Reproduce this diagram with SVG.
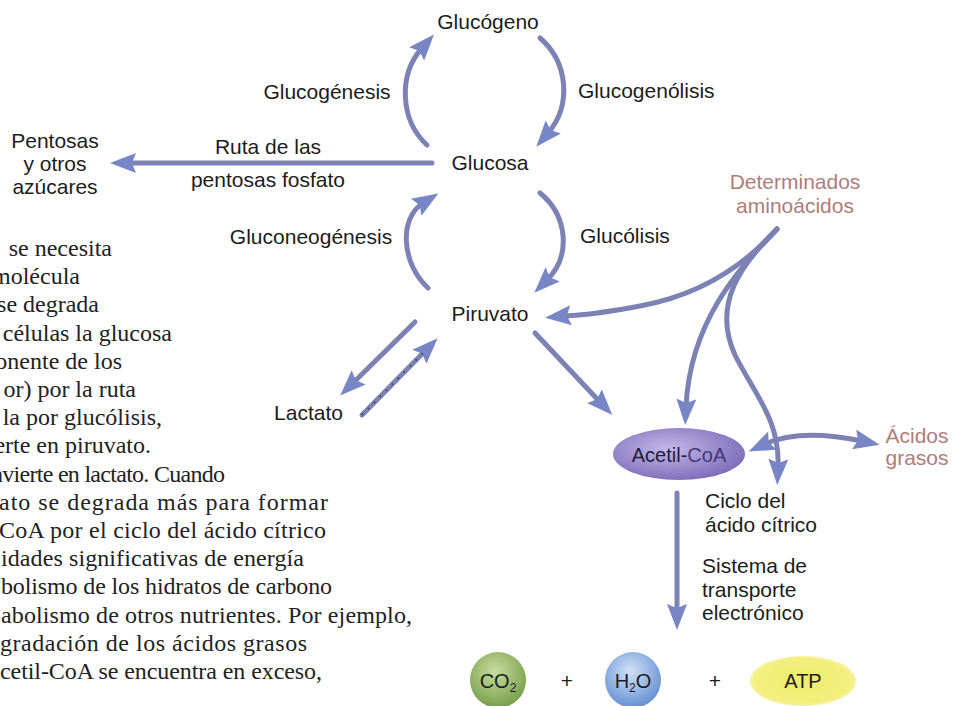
<svg xmlns="http://www.w3.org/2000/svg" width="973" height="706" viewBox="0 0 973 706">
<defs>
<style>
.lbl{font-family:"Liberation Sans",Arial,sans-serif;font-size:21px;fill:#1c1c1c}
.mid{text-anchor:middle}
.pink{fill:#b07c7a}
.body{font-family:"Liberation Serif","Times New Roman",serif;font-size:24px;fill:#222;text-anchor:end}
.c{stroke:#7d82b4;stroke-width:5;fill:none;stroke-linecap:round}
.ah{marker-end:url(#ah)}
</style>
<marker id="ah" viewBox="0 0 26 20" refX="8" refY="10" markerWidth="26" markerHeight="20" markerUnits="userSpaceOnUse" orient="auto-start-reverse">
<path d="M0,0 L26,10 L0,20 L4,10 z" fill="#7886c6"/>
</marker>
<radialGradient id="gAc" cx="0.42" cy="0.4" r="0.65"><stop offset="0" stop-color="#c4b8e8"/><stop offset="1" stop-color="#7b6ab8"/></radialGradient>
<radialGradient id="gCO" cx="0.45" cy="0.35" r="0.62"><stop offset="0" stop-color="#c8dca0"/><stop offset="1" stop-color="#7aa24e"/></radialGradient>
<radialGradient id="gH" cx="0.45" cy="0.35" r="0.62"><stop offset="0" stop-color="#d2e2f7"/><stop offset="1" stop-color="#6a94d4"/></radialGradient>
<radialGradient id="gATP" cx="0.5" cy="0.5" r="0.55"><stop offset="0" stop-color="#f1ec6c"/><stop offset="0.8" stop-color="#f3ef7e"/><stop offset="1" stop-color="#f8f6b4"/></radialGradient>
</defs>
<rect width="973" height="706" fill="#ffffff"/>

<g id="texto">
<text class="body" x="112" y="256">se necesita</text>
<text class="body" x="80" y="284">molécula</text>
<text class="body" x="99" y="312">se degrada</text>
<text class="body" x="172" y="341">células la glucosa</text>
<text class="body" x="122" y="369">onente de los</text>
<text class="body" x="136" y="397">or) por la ruta</text>
<text class="body" x="162" y="425">la por glucólisis,</text>
<text class="body" x="151" y="453">erte en piruvato.</text>
<text class="body" x="225" y="482" textLength="234" lengthAdjust="spacing">nvierte en lactato. Cuando</text>
<text class="body" x="328" y="510" textLength="329" lengthAdjust="spacing">ato se degrada más para formar</text>
<text class="body" x="326" y="538" textLength="327" lengthAdjust="spacing">CoA por el ciclo del ácido cítrico</text>
<text class="body" x="304" y="566" textLength="303" lengthAdjust="spacing">idades significativas de energía</text>
<text class="body" x="332" y="594" textLength="331" lengthAdjust="spacing">bolismo de los hidratos de carbono</text>
<text class="body" x="412" y="623" textLength="411" lengthAdjust="spacing">abolismo de otros nutrientes. Por ejemplo,</text>
<text class="body" x="307" y="651" textLength="307" lengthAdjust="spacing">gradación de los ácidos grasos</text>
<text class="body" x="322" y="679" textLength="322" lengthAdjust="spacing">cetil-CoA se encuentra en exceso,</text>
</g>

<g id="connectors">
<path class="c ah" d="M427 145 C400 120 398 75 422 48"/>
<path class="c ah" d="M540 38 C568 62 572 105 548 133"/>
<path class="c ah" d="M428 288 C401 263 399 218 423 203"/>
<path class="c ah" d="M540 193 C567 215 572 255 547 280"/>
<path class="c ah" d="M432 163 L128 163"/>
<path class="c ah" d="M415 322 L353 383"/>
<path class="c ah" d="M362 415 L425 351"/>
<path d="M362 415 L425 351" fill="none" stroke="#3a3a4a" stroke-width="1.6" stroke-dasharray="1.5 7"/>
<path class="c ah" d="M535 333 L600 402"/>
<path class="c ah" d="M777 229 C745 265 700 295 640 306 S585 314 563 316"/>
<path class="c ah" d="M777 229 C740 268 690 320 686 407"/>
<path class="c ah" d="M777 229 C740 265 712 305 735 355 C755 395 780 420 778 467"/>
<path class="c" d="M765 444 Q800 428 862 441" marker-start="url(#ah)" marker-end="url(#ah)"/>
<path class="c ah" d="M677 493 L677 612"/>
</g>

<g id="glucogeno"><text class="lbl mid" x="488" y="29">Glucógeno</text></g>
<g id="glucogenesis"><text class="lbl mid" x="327" y="99">Glucogénesis</text></g>
<g id="glucogenolisis"><text class="lbl" x="578" y="98">Glucogenólisis</text></g>
<g id="glucosa"><text class="lbl mid" x="490" y="170">Glucosa</text></g>
<g id="pentosas">
<text class="lbl mid" x="55" y="148">Pentosas</text>
<text class="lbl mid" x="55" y="171">y otros</text>
<text class="lbl mid" x="55" y="194">azúcares</text>
</g>
<g id="ruta">
<text class="lbl mid" x="268" y="154">Ruta de las</text>
<text class="lbl mid" x="268" y="187">pentosas fosfato</text>
</g>
<g id="gluconeogenesis"><text class="lbl mid" x="311" y="244">Gluconeogénesis</text></g>
<g id="glucolisis"><text class="lbl" x="580" y="243">Glucólisis</text></g>
<g id="piruvato"><text class="lbl mid" x="490" y="321">Piruvato</text></g>
<g id="lactato"><text class="lbl" x="343" y="420" text-anchor="end">Lactato</text></g>
<g id="aminoacidos">
<text class="lbl mid pink" x="795" y="189">Determinados</text>
<text class="lbl mid pink" x="795" y="213">aminoácidos</text>
</g>
<g id="acetilcoa">
<ellipse cx="679" cy="454" rx="66" ry="26" fill="url(#gAc)"/>
<text class="lbl mid" x="679" y="462" style="font-size:20px;fill:#221c38">Acetil-<tspan style="fill:#43387a">CoA</tspan></text>
</g>
<g id="acidosgrasos">
<text class="lbl mid pink" x="917" y="443">Ácidos</text>
<text class="lbl mid pink" x="917" y="465">grasos</text>
</g>
<g id="ciclo">
<text class="lbl" x="705" y="508">Ciclo del</text>
<text class="lbl" x="705" y="532">ácido cítrico</text>
</g>
<g id="sistema">
<text class="lbl" x="702" y="573">Sistema de</text>
<text class="lbl" x="702" y="597">transporte</text>
<text class="lbl" x="702" y="620">electrónico</text>
</g>
<g id="co2">
<circle cx="498" cy="680" r="28" fill="url(#gCO)"/>
<text class="lbl mid" x="498" y="688" style="font-size:20px">CO<tspan font-size="12" dy="4">2</tspan></text>
</g>
<g id="plus1"><text class="lbl mid" x="567" y="688">+</text></g>
<g id="h2o">
<circle cx="633" cy="680" r="28" fill="url(#gH)"/>
<text class="lbl mid" x="633" y="688" style="font-size:20px">H<tspan font-size="12" dy="4">2</tspan><tspan dy="-4">O</tspan></text>
</g>
<g id="plus2"><text class="lbl mid" x="715" y="688">+</text></g>
<g id="atp">
<ellipse cx="803" cy="681" rx="53" ry="25" fill="url(#gATP)"/>
<text class="lbl mid" x="803" y="688" style="font-size:20px">ATP</text>
</g>
</svg>
